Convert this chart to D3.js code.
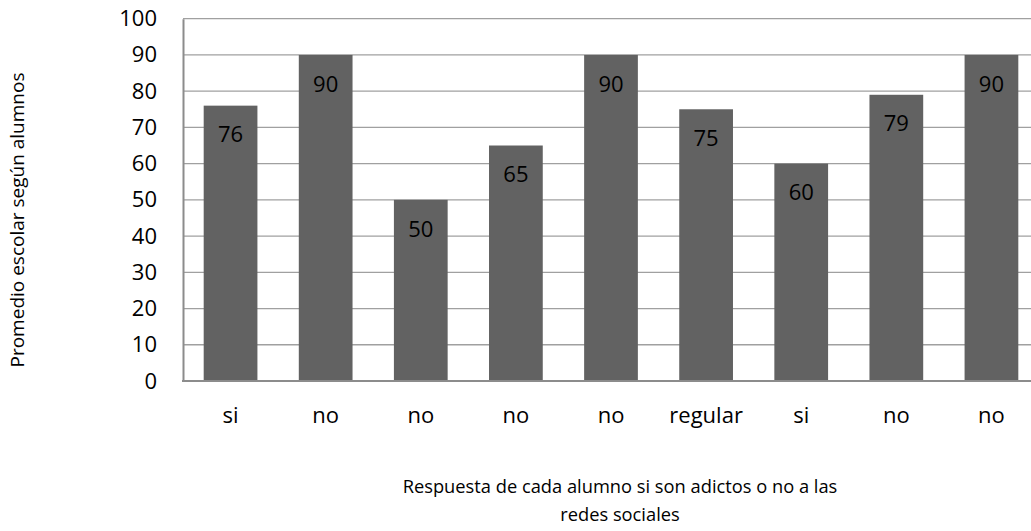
<!DOCTYPE html>
<html>
<head>
<meta charset="utf-8">
<script src="https://cdn.jsdelivr.net/npm/d3@7"></script>
<style>
  html, body { margin: 0; padding: 0; background: #fff; }
  svg { display: block; }
  text { font-family: "Open Sans", "Noto Sans", sans-serif; fill: #000; }
</style>
</head>
<body>
<svg id="chart" width="1031" height="531"></svg>
<script>
// ---- data ----
const categories = ["si", "no", "no", "no", "no", "regular", "si", "no", "no"];
const values = [76, 90, 50, 65, 90, 75, 60, 79, 90];
const yTicks = [0, 10, 20, 30, 40, 50, 60, 70, 80, 90, 100];
const yTitle = "Promedio escolar según alumnos";
const xTitleLines = ["Respuesta de cada alumno si son adictos o no a las", "redes sociales"];

// ---- layout ----
const W = 1031, H = 531;
const plot = { left: 183, top: 18.7, bottom: 381, right: 1039 };
const svg = d3.select("#chart");

const x = d3.scaleBand()
  .domain(d3.range(categories.length))
  .range([plot.left, plot.right])
  .paddingInner(0.435)
  .paddingOuter(0.2175);

const y = d3.scaleLinear().domain([0, 100]).range([plot.bottom, plot.top]);

// gridlines
svg.append("g").selectAll("line")
  .data(yTicks.filter(d => d > 0))
  .join("line")
  .attr("x1", plot.left).attr("x2", W)
  .attr("y1", d => y(d)).attr("y2", d => y(d))
  .attr("stroke", "#a0a0a0").attr("stroke-width", 1.3);

// bars
svg.append("g").selectAll("rect")
  .data(values)
  .join("rect")
  .attr("x", (d, i) => x(i))
  .attr("width", x.bandwidth())
  .attr("y", d => y(d))
  .attr("height", d => y(0) - y(d))
  .attr("fill", "#626262");

// value labels (inside end)
svg.append("g").selectAll("text")
  .data(values)
  .join("text")
  .attr("x", (d, i) => x(i) + x.bandwidth() / 2)
  .attr("y", d => y(d) + 29)
  .attr("dy", "0.35em")
  .attr("text-anchor", "middle")
  .style("font-size", "22px")
  .text(d => d);

// y axis
const yAxis = d3.axisLeft(y).tickValues(yTicks).tickSize(0).tickPadding(26);
const gy = svg.append("g").attr("transform", `translate(${plot.left},0)`).call(yAxis);
gy.select(".domain").attr("stroke", "#8c8c8c").attr("stroke-width", 2);
gy.selectAll("text").style("font-size", "22px").style("font-family", '"Open Sans", sans-serif').attr("fill", "#000");

// x axis
const xAxis = d3.axisBottom(x).tickFormat(i => categories[i]).tickSize(0).tickPadding(26);
const gx = svg.append("g").attr("transform", `translate(0,${plot.bottom})`).call(xAxis);
gx.select(".domain").remove();
svg.append("line")
  .attr("x1", plot.left - 1).attr("x2", W)
  .attr("y1", plot.bottom).attr("y2", plot.bottom)
  .attr("stroke", "#8c8c8c").attr("stroke-width", 2);
gx.selectAll("text").style("font-size", "22px").style("font-family", '"Open Sans", sans-serif').attr("fill", "#000");

// y title
svg.append("text")
  .attr("transform", `translate(24,220) rotate(-90)`)
  .attr("text-anchor", "middle")
  .style("font-size", "19px")
  .text(yTitle);

// x title
svg.append("g").selectAll("text")
  .data(xTitleLines)
  .join("text")
  .attr("x", 620)
  .attr("y", (d, i) => 493 + i * 28)
  .attr("text-anchor", "middle")
  .style("font-size", "18.3px")
  .text(d => d);
</script>
</body>
</html>
